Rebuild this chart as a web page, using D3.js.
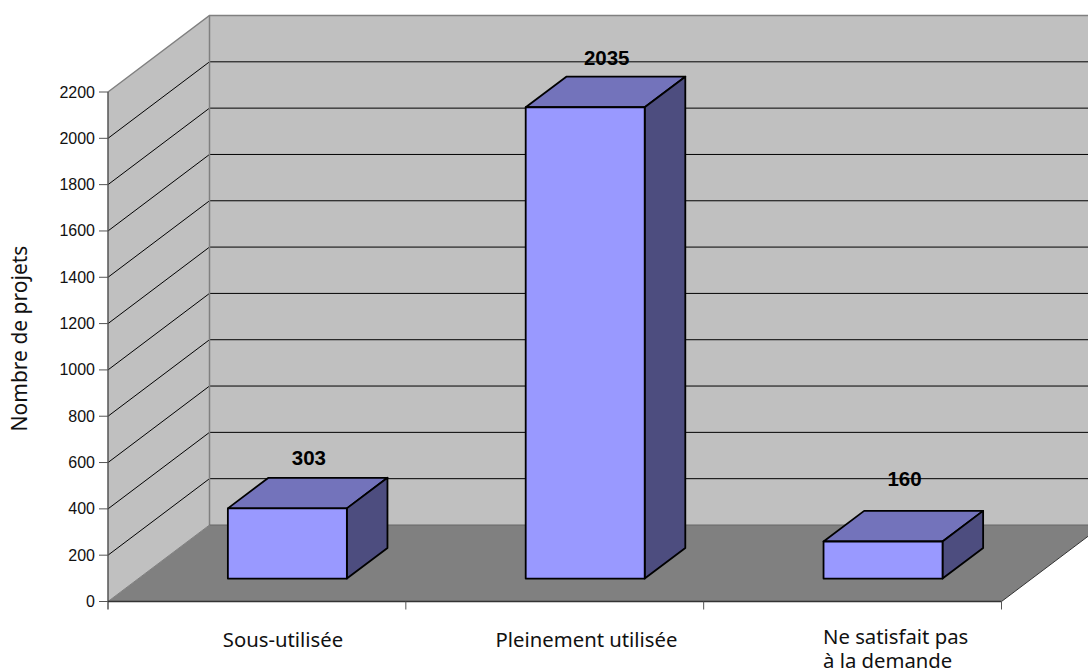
<!DOCTYPE html>
<html><head><meta charset="utf-8">
<script src="https://cdn.jsdelivr.net/npm/d3@7/dist/d3.min.js"></script>
<style>html,body{margin:0;padding:0;background:#fff;overflow:hidden}</style>
</head><body><svg id="c" width="1088" height="671"></svg>
<script>
const categories = ["Sous-utilisée", "Pleinement utilisée", "Ne satisfait pas|à la demande"];
const values = [303, 2035, 160];
const yTicks = d3.range(0, 2201, 200);
const axisTitle = "Nombre de projets";

const svg = d3.select("#c");
const x0 = 108, x1 = 1001.5, yB = 601.5, yT = 92, DX = 101.5, DY = -76.5;
const y = d3.scaleLinear().domain([0, 2200]).range([yB, yT]);
const x = d3.scaleBand().domain(categories).range([x0, x1]);
const pts = a => a.map(p => p.join(",")).join(" ");
const sans = "'Liberation Sans',Arial,sans-serif", cat = "'Noto Sans',sans-serif";
const grey = "#808080";

svg.append("polygon").attr("points", pts([[x0+DX,y(2200)+DY],[1200,y(2200)+DY],[1200,yB+DY],[x0+DX,yB+DY]])).attr("fill","#c0c0c0");
svg.append("polygon").attr("points", pts([[x0,yB],[x0+DX,yB+DY],[x0+DX,y(2200)+DY],[x0,y(2200)]])).attr("fill","#c0c0c0");
svg.append("polygon").attr("points", pts([[x0,yB],[x1,yB],[x1+DX,yB+DY],[x0+DX,yB+DY]])).attr("fill",grey);

yTicks.filter(d => d > 0).forEach(d => {
  const c = d === 2200 ? grey : "#000", w = d === 2200 ? 1.5 : 1;
  svg.append("polyline").attr("fill","none").attr("stroke",c).attr("stroke-width",w)
    .attr("points", pts([[x0,y(d)],[x0+DX,y(d)+DY],[1200,y(d)+DY]]));
});
svg.append("line").attr("x1",x0+DX).attr("x2",x0+DX).attr("y1",y(2200)+DY).attr("y2",yB+DY).attr("stroke",grey).attr("stroke-width",1.5);
svg.append("line").attr("x1",x0).attr("x2",x0+DX).attr("y1",yB).attr("y2",yB+DY).attr("stroke",grey);
svg.append("line").attr("x1",x0+DX).attr("x2",1200).attr("y1",yB+DY).attr("y2",yB+DY).attr("stroke","#666");
svg.append("line").attr("x1",x1).attr("x2",1200).attr("y1",yB).attr("y2",yB+(1200-x1)*DY/DX).attr("stroke","#333");

const barW = 119, fx = 0.3, depth = 0.4;
const labelLift = [13, 12, 25];
categories.forEach((c, i) => {
  const l = x(c) + (x.bandwidth() - barW) / 2 + DX * fx, r = l + barW;
  const ox = DX * depth, oy = DY * depth;
  const b = yB + DY * fx, t = b - (yB - y(values[i]));
  const g = svg.append("g").attr("stroke","#000").attr("stroke-width",1.8).attr("stroke-linejoin","round");
  g.append("polygon").attr("points", pts([[l,t],[r,t],[r+ox,t+oy],[l+ox,t+oy]])).attr("fill","#7373bb");
  g.append("polygon").attr("points", pts([[r,t],[r+ox,t+oy],[r+ox,b+oy],[r,b]])).attr("fill","#4d4d7f");
  g.append("polygon").attr("points", pts([[l,t],[r,t],[r,b],[l,b]])).attr("fill","#9999ff");
  svg.append("text").attr("x",(l+r)/2+21.5).attr("y",t+oy-labelLift[i]).attr("text-anchor","middle")
    .attr("font-family",sans).attr("font-weight","bold").attr("font-size",20.5).attr("fill","#000").text(values[i]);
});

const ax = svg.append("g");
ax.append("line").attr("x1",x0).attr("x2",x0).attr("y1",y(2200)).attr("y2",yB+8).attr("stroke","#555").attr("stroke-width",1.5);
ax.append("line").attr("x1",x0).attr("x2",x1).attr("y1",yB).attr("y2",yB).attr("stroke","#333").attr("stroke-width",1.5);
yTicks.forEach(d => {
  ax.append("line").attr("x1",x0-9).attr("x2",x0).attr("y1",y(d)).attr("y2",y(d)).attr("stroke","#555");
  ax.append("text").attr("x",x0-13).attr("y",y(d)+5.5).attr("text-anchor","end")
    .attr("font-family",sans).attr("font-size",16).attr("fill","#111").text(d);
});
categories.forEach((c, i) => {
  const tx = x(c) + x.bandwidth();
  ax.append("line").attr("x1",tx).attr("x2",tx).attr("y1",yB).attr("y2",yB+8).attr("stroke","#555");
});
const catX = [283, 586.5, 823];
categories.forEach((c, i) => {
  const lines = c.split("|");
  const t = ax.append("text").attr("font-family",cat).attr("font-size",20.3).attr("fill","#111")
    .attr("text-anchor", lines.length > 1 ? "start" : "middle");
  lines.forEach((s, j) => t.append("tspan").attr("x",catX[i]).attr("y",(lines.length > 1 ? 644 : 646.5) + j*24).text(s));
});
ax.append("text").attr("transform","translate(27,338.5) rotate(-90)").attr("text-anchor","middle")
  .attr("font-family",cat).attr("font-size",21).attr("fill","#111").text(axisTitle);
</script></body></html>
